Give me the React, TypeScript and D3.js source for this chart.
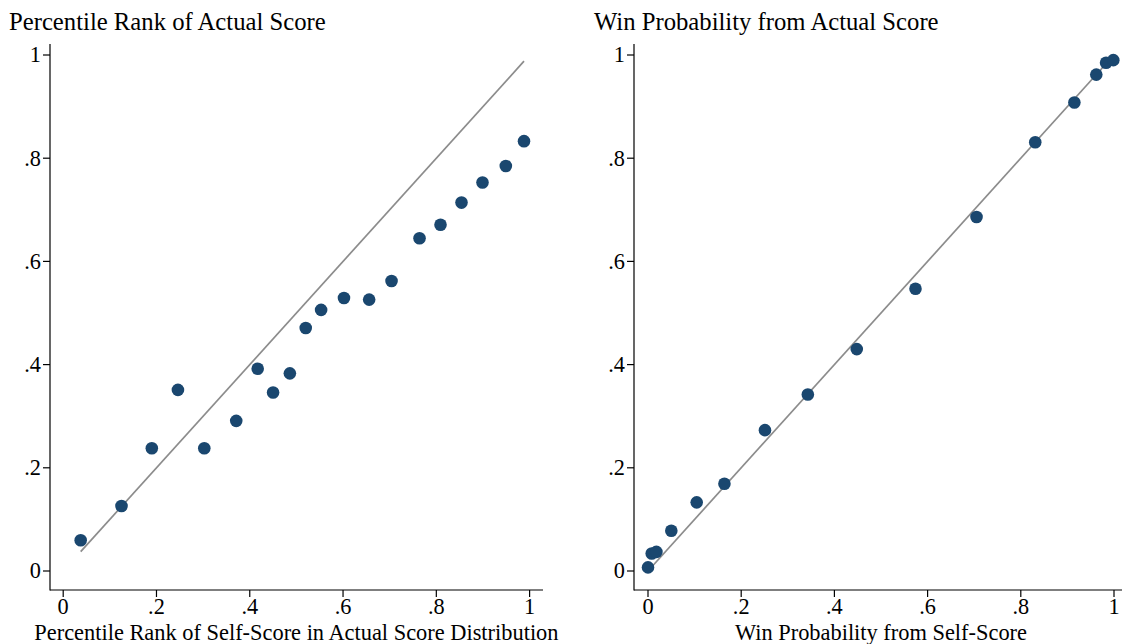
import React from "react";
import * as d3 from "d3";

const leftX = [0.0375, 0.125, 0.19, 0.246, 0.3025, 0.371, 0.417, 0.45, 0.486, 0.52, 0.553, 0.602, 0.656, 0.704, 0.764, 0.809, 0.854, 0.899, 0.949, 0.988];
const leftY = [0.0595, 0.126, 0.238, 0.351, 0.238, 0.291, 0.392, 0.346, 0.383, 0.471, 0.506, 0.529, 0.526, 0.562, 0.645, 0.671, 0.714, 0.753, 0.785, 0.833];

const rightX = [0.0, 0.008, 0.018, 0.05, 0.1045, 0.164, 0.251, 0.343, 0.448, 0.574, 0.705, 0.831, 0.915, 0.962, 0.983, 0.9985];
const rightY = [0.007, 0.034, 0.037, 0.078, 0.133, 0.169, 0.273, 0.342, 0.43, 0.547, 0.686, 0.831, 0.908, 0.962, 0.985, 0.99];

const tickValues = [0, 0.2, 0.4, 0.6, 0.8, 1];
const tickLabels = ["0", ".2", ".4", ".6", ".8", "1"];

const titles = ["Percentile Rank of Actual Score", "Win Probability from Actual Score"];
const xTitles = ["Percentile Rank of Self-Score in Actual Score Distribution", "Win Probability from Self-Score"];

const FONT = "'Liberation Serif', 'Times New Roman', serif";
const NAVY = "#1a476f";

type PanelProps = {
  xs: number[];
  ys: number[];
  axisLeft: number;
  axisRight: number;
  x0px: number;
  x1px: number;
  title: string;
  titleX: number;
  xTitle: string;
};

function Panel({ xs, ys, axisLeft, axisRight, x0px, x1px, title, titleX, xTitle }: PanelProps) {
  const x = d3.scaleLinear().domain([0, 1]).range([x0px, x1px]);
  const y = d3.scaleLinear().domain([0, 1]).range([571, 55]);
  const axisTop = 44;
  const axisBottom = 590;
  const lo = d3.min(xs) as number;
  const hi = d3.max(xs) as number;
  const line = d3.line<number>().x((d) => x(d)).y((d) => y(d));
  const xTitleCenter = (x0px + x1px) / 2;
  return (
    <g>
      <text x={titleX} y={30} fontSize={24.7} fontFamily={FONT} fill="#000">{title}</text>
      <line x1={axisLeft} x2={axisLeft} y1={axisTop} y2={axisBottom + 0.5} stroke="#000" strokeWidth={1.2} />
      {tickValues.map((v, i) => (
        <g key={"y" + i}>
          <line x1={axisLeft - 7} x2={axisLeft} y1={y(v)} y2={y(v)} stroke="#000" strokeWidth={1.2} />
          <text x={axisLeft - 9} y={y(v)} dy="0.33em" textAnchor="end" fontSize={22.3} fontFamily={FONT}>{tickLabels[i]}</text>
        </g>
      ))}
      <line x1={axisLeft} x2={axisRight} y1={axisBottom} y2={axisBottom} stroke="#000" strokeWidth={1.2} />
      {tickValues.map((v, i) => (
        <g key={"x" + i}>
          <line x1={x(v)} x2={x(v)} y1={axisBottom} y2={axisBottom + 7} stroke="#000" strokeWidth={1.2} />
          <text x={x(v)} y={614} textAnchor="middle" fontSize={22.3} fontFamily={FONT}>{tickLabels[i]}</text>
        </g>
      ))}
      <text x={xTitleCenter} y={640} textAnchor="middle" fontSize={22.4} fontFamily={FONT}>{xTitle}</text>
      <path d={line([lo, hi]) || ""} stroke="#8c8c8c" strokeWidth={1.7} fill="none" />
      {xs.map((v, i) => (
        <circle key={i} cx={x(v)} cy={y(ys[i])} r={6.3} fill={NAVY} />
      ))}
    </g>
  );
}

export default function App() {
  return (
    <svg width={1122} height={644} style={{ position: "absolute", left: 0, top: 0, background: "#fff" }}>
      <rect width={1122} height={644} fill="#fff" />
      <Panel xs={leftX} ys={leftY} axisLeft={50} axisRight={543} x0px={63.2} x1px={529.6} title={titles[0]} titleX={9} xTitle={xTitles[0]} />
      <Panel xs={rightX} ys={rightY} axisLeft={634} axisRight={1122} x0px={648} x1px={1114} title={titles[1]} titleX={594} xTitle={xTitles[1]} />
    </svg>
  );
}
